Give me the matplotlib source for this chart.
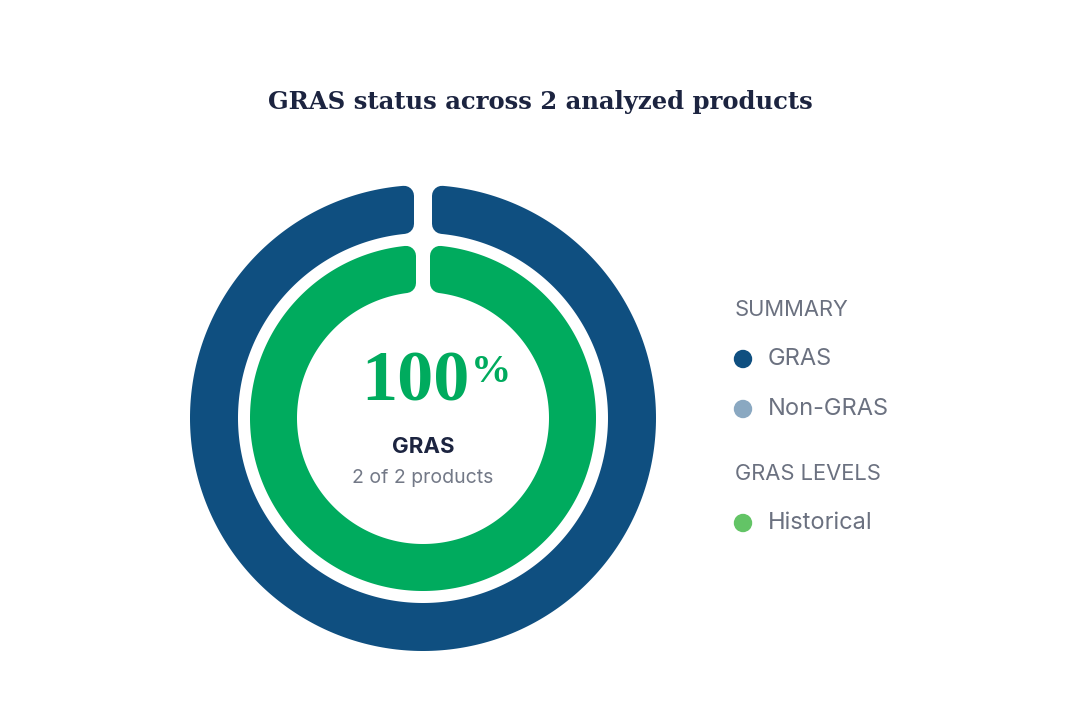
import numpy as np
import matplotlib
matplotlib.use("Agg")
import matplotlib.pyplot as plt
from matplotlib.patches import Polygon, Circle

# data
summary_labels = ["GRAS", "Non-GRAS"]
summary_values = [2, 0]
summary_colors = ["#0f4f80", "#8aa8c1"]
level_labels = ["Historical"]
level_values = [2]
level_colors = ["#00ab5e"]
level_dot_colors = ["#63c466"]
total_products = 2

title = "GRAS status across %d analyzed products" % total_products


def ring_segments(ax, values, colors, cx, cy, r_out, r_in, pad, corner):
    total = float(sum(values))
    start = 0.0
    ro = r_out - corner
    ri = r_in + corner
    p = pad + corner
    for v, col in zip(values, colors):
        if v <= 0:
            continue
        end = start + 2 * np.pi * v / total
        a_o0, a_o1 = start + np.arcsin(p / ro), end - np.arcsin(p / ro)
        a_i0, a_i1 = start + np.arcsin(p / ri), end - np.arcsin(p / ri)
        t_o = np.linspace(a_o0, a_o1, 400)
        t_i = np.linspace(a_i1, a_i0, 400)
        xs = np.concatenate([cx + ro * np.sin(t_o), cx + ri * np.sin(t_i)])
        ys = np.concatenate([cy - ro * np.cos(t_o), cy - ri * np.cos(t_i)])
        poly = Polygon(np.column_stack([xs, ys]), closed=True, facecolor=col,
                       edgecolor=col, linewidth=corner * 2 * 0.72, joinstyle="round")
        ax.add_patch(poly)
        start = end


fig = plt.figure(figsize=(10.8, 7.2), dpi=100)
ax = fig.add_axes([0, 0, 1, 1])
ax.set_xlim(0, 1080)
ax.set_ylim(720, 0)
ax.axis("off")

cx, cy = 423, 418
ring_segments(ax, summary_values, summary_colors, cx, cy, 233, 185, 9, 10)
ring_segments(ax, level_values, level_colors, cx, cy, 173, 126, 7, 10)

ax.text(540, 102, title, ha="center", va="center", fontsize=17.5,
        fontweight="bold", family="DejaVu Serif", color="#1c2440")

pct = 100 * summary_values[0] / sum(summary_values)
ax.text(470, 383, "%d" % pct, ha="right", va="center", fontsize=52,
        fontweight="bold", family="Liberation Serif", color="#00ab5e")
ax.text(471, 373, "%", ha="left", va="center", fontsize=29,
        fontweight="bold", family="Liberation Serif", color="#00ab5e")
ax.text(423, 447, summary_labels[0], ha="center", va="center", fontsize=16,
        fontweight="bold", family="Inter", color="#1c2440")
ax.text(423, 478, "%d of %d products" % (summary_values[0], total_products),
        ha="center", va="center", fontsize=14, family="Inter", color="#737987")

lx = 735
ax.text(lx, 310, "SUMMARY", ha="left", va="center", fontsize=15.8,
        family="Inter", color="#6b7180")
ys = [359, 409]
for lab, col, y in zip(summary_labels, summary_colors, ys):
    ax.add_patch(Circle((lx + 8, y), 8.5, color=col))
    ax.text(lx + 33, y, lab, ha="left", va="center", fontsize=17,
            family="Inter", color="#6b7180")
ax.text(lx, 474, "GRAS LEVELS", ha="left", va="center", fontsize=15.8,
        family="Inter", color="#6b7180")
for lab, col, y in zip(level_labels, level_dot_colors, [523]):
    ax.add_patch(Circle((lx + 8, y), 8.5, color=col))
    ax.text(lx + 33, y, lab, ha="left", va="center", fontsize=17,
            family="Inter", color="#6b7180")

fig.savefig("out.png", dpi=100, facecolor="white")
